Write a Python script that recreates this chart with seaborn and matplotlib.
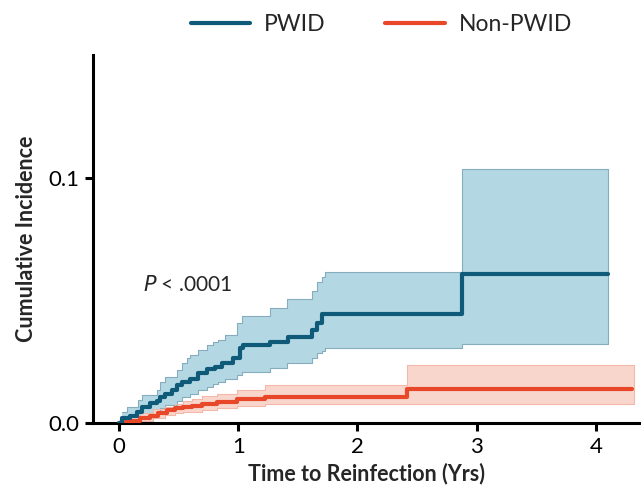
import numpy as np
import pandas as pd
import matplotlib
matplotlib.use("Agg")
import matplotlib.pyplot as plt
from matplotlib.lines import Line2D
import seaborn as sns

# Cumulative incidence of reinfection, PWID
pwid_time = [0.0, 0.025, 0.092, 0.151, 0.193, 0.260, 0.319, 0.344, 0.386, 0.445,
             0.486, 0.528, 0.595, 0.662, 0.737, 0.805, 0.863, 0.956, 1.014, 1.039,
             1.266, 1.417, 1.618, 1.660, 1.702, 2.875, 4.107]
pwid_ci = [0.0, 0.002, 0.003, 0.0045, 0.0065, 0.0082, 0.009, 0.0106, 0.012, 0.0135,
           0.0155, 0.0167, 0.018, 0.0204, 0.022, 0.0229, 0.0245, 0.0265, 0.0306, 0.032,
           0.033, 0.035, 0.038, 0.041, 0.0445, 0.0608, 0.0608]

# 95% confidence band, PWID
pwid_band_time = [0.025, 0.067, 0.159, 0.193, 0.319, 0.344, 0.386, 0.486, 0.528, 0.570,
                  0.595, 0.662, 0.737, 0.788, 0.830, 0.889, 0.989, 1.031, 1.266, 1.408,
                  1.618, 1.660, 1.702, 1.727, 2.875, 4.107]
pwid_lower = [0.001, 0.001, 0.0025, 0.003, 0.0045, 0.006, 0.0073, 0.009, 0.0106, 0.0106,
              0.0118, 0.0135, 0.0147, 0.016, 0.0167, 0.018, 0.0195, 0.021, 0.0224, 0.0245,
              0.0265, 0.0285, 0.0295, 0.0306, 0.0322, 0.0322]
pwid_upper = [0.0045, 0.0065, 0.0094, 0.0114, 0.0135, 0.0167, 0.0188, 0.0216, 0.0245, 0.0265,
              0.0278, 0.0298, 0.0318, 0.033, 0.034, 0.036, 0.041, 0.0435, 0.047, 0.0505,
              0.054, 0.0575, 0.0595, 0.0616, 0.1037, 0.1037]

# Cumulative incidence of reinfection, Non-PWID
non_time = [0.0, 0.050, 0.176, 0.260, 0.327, 0.402, 0.469, 0.536, 0.612, 0.696,
            0.821, 0.989, 1.224, 2.414, 4.308]
non_ci = [0.0, 0.001, 0.002, 0.003, 0.0042, 0.0053, 0.006, 0.0066, 0.0072, 0.008,
          0.0087, 0.0097, 0.0107, 0.0139, 0.0139]

# 95% confidence band, Non-PWID
non_band_time = [0.050, 0.176, 0.285, 0.386, 0.469, 0.536, 0.612, 0.696, 0.821, 0.989,
                 1.224, 2.414, 4.325]
non_lower = [0.0, 0.001, 0.002, 0.0035, 0.004, 0.0045, 0.0045, 0.0053, 0.006, 0.0069,
             0.0078, 0.0078, 0.0078]
non_upper = [0.003, 0.004, 0.0057, 0.0066, 0.008, 0.009, 0.010, 0.011, 0.012, 0.0135,
             0.0155, 0.0237, 0.0237]

groups = ["PWID", "Non-PWID"]
x_ticks = [0, 1, 2, 3, 4]
y_ticks = [0.0, 0.1]
y_tick_labels = ["0.0", "0.1"]

line_colors = {"PWID": "#0e5a78", "Non-PWID": "#e8472a"}
band_fill = {"PWID": "#b4d8e3", "Non-PWID": "#f9d6cc"}
band_edge = {"PWID": "#86adbd", "Non-PWID": "#f2b8a9"}

sns.set_theme(style="white")
plt.rcParams["font.family"] = ["Lato", "DejaVu Sans"]

curves = pd.concat([
    pd.DataFrame({"time": pwid_time, "ci": pwid_ci, "group": "PWID"}),
    pd.DataFrame({"time": non_time, "ci": non_ci, "group": "Non-PWID"}),
])

fig = plt.figure(figsize=(6.41, 4.87), dpi=100)
ax = fig.add_axes([0.145, 0.131, 0.855, 0.756])

bands = {
    "PWID": (pwid_band_time, pwid_lower, pwid_upper),
    "Non-PWID": (non_band_time, non_lower, non_upper),
}
for g in groups:
    bt, lo, hi = bands[g]
    ax.fill_between(bt, lo, hi, step="post", color=band_fill[g], lw=0, zorder=1)
    ax.step(bt, lo, where="post", color=band_edge[g], lw=0.8, zorder=1.5)
    ax.step(bt, hi, where="post", color=band_edge[g], lw=0.8, zorder=1.5)
    ax.vlines(bt[-1], lo[-1], hi[-1], color=band_edge[g], lw=0.8, zorder=1.5)

for g in ["Non-PWID", "PWID"]:
    sns.lineplot(data=curves[curves["group"] == g], x="time", y="ci",
                 drawstyle="steps-post", color=line_colors[g], lw=3.0,
                 estimator=None, sort=False, ax=ax, zorder=3, legend=False)

ax.set_xlim(-0.22, 4.38)
ax.set_ylim(0, 0.150)
ax.set_xticks(x_ticks)
ax.set_xticklabels([str(t) for t in x_ticks])
ax.set_yticks(y_ticks)
ax.set_yticklabels(y_tick_labels)

for side in ["top", "right"]:
    ax.spines[side].set_visible(False)
for side in ["left", "bottom"]:
    ax.spines[side].set_linewidth(2.2)
    ax.spines[side].set_color("black")
ax.tick_params(axis="both", which="major", direction="out", length=6, width=2.2,
               colors="black", labelsize=16, pad=4, bottom=True, left=True)

ax.set_xlabel("Time to Reinfection (Yrs)", fontsize=15.5, fontweight="bold", labelpad=4)
ax.set_ylabel("Cumulative Incidence", fontsize=15.5, fontweight="bold", labelpad=8)

ax.text(0.2, 0.0565, "$\\mathit{P}$ < .0001", fontsize=15, ha="left", va="center")

handles = [Line2D([0], [0], color=line_colors[g], lw=3.0) for g in groups]
fig.legend(handles, groups, loc="center", bbox_to_anchor=(0.595, 0.95), ncol=2,
           frameon=False, fontsize=16.5, handlelength=2.6, columnspacing=2.6,
           handletextpad=0.6)

fig.savefig("out.png", dpi=100)
